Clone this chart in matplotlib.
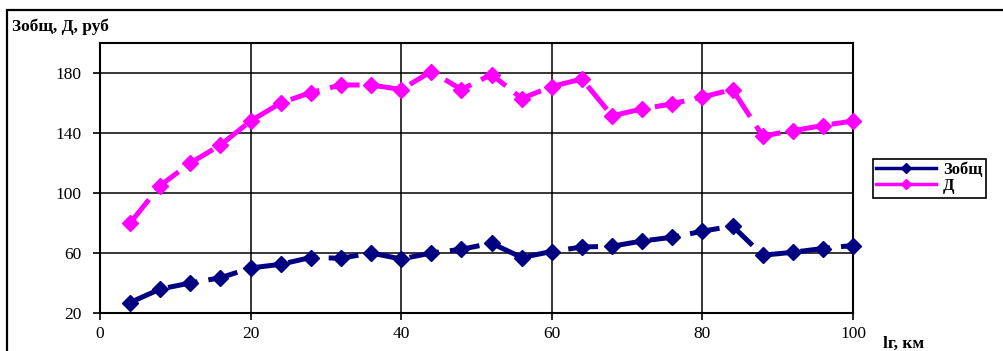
import matplotlib
matplotlib.use("Agg")
import matplotlib.pyplot as plt
from matplotlib.lines import Line2D
from matplotlib.patches import Rectangle

# Distance lг, km
distance = [4, 8, 12, 16, 20, 24, 28, 32, 36, 40, 44, 48, 52,
            56, 60, 64, 68, 72, 76, 80, 84, 88, 92, 96, 100]

# Total costs Зобщ, rub
z_total = [27, 36, 40, 43.5, 50, 52.5, 57, 56.5, 60, 56, 60, 62.5, 66.5,
           57, 61, 64, 64.5, 68, 70.5, 74.5, 78, 58.5, 60.5, 63, 65]

# Income Д, rub
income = [80, 105, 120, 132, 148, 160, 167, 172, 172, 169, 181, 169, 179,
          163, 171, 176, 151.5, 156, 159.5, 164, 169, 138, 141.5, 145, 148]

x_ticks = [0, 20, 40, 60, 80, 100]
y_ticks = [20, 60, 100, 140, 180]

W, H = 1004, 351
fig = plt.figure(figsize=(W / 100, H / 100), dpi=100)
plt.rcParams['font.family'] = ['Liberation Serif', 'DejaVu Serif']

ax = fig.add_axes([100 / W, 1 - 313 / H, (853 - 100) / W, (313 - 43) / H])

navy = '#000080'
magenta = '#FF00FF'
dash = (0, (6, 2.2))

ax.plot(distance, z_total, color=navy, lw=3.6, linestyle=dash,
        marker='D', ms=8, mec=navy, mfc=navy, zorder=3, clip_on=False)
ax.plot(distance, income, color=magenta, lw=3.6, linestyle=dash,
        marker='D', ms=8, mec=magenta, mfc=magenta, zorder=3, clip_on=False)

ax.set_xlim(0, 100)
ax.set_ylim(20, 200)
ax.set_xticks(x_ticks)
ax.set_yticks(y_ticks)
ax.tick_params(direction='out', length=5, width=1.2, labelsize=12.5,
               colors='black')
ax.tick_params(axis='y', pad=8)
ax.tick_params(axis='x', pad=4)

ax.grid(True, color='black', lw=1.1, zorder=1)
for s in ax.spines.values():
    s.set_linewidth(1.5)
    s.set_color('black')

# Outer chart frame
fig.patches.append(Rectangle((7 / W, -0.05), 1.1, 1 - 10 / H + 0.05,
                             transform=fig.transFigure, fill=False,
                             lw=1.6, edgecolor='black'))

fig.text(12 / W, 1 - 27 / H, 'Зобщ, Д, руб', fontsize=12.5, fontweight='bold',
         ha='left', va='center')
fig.text(883 / W, 1 - 344 / H, 'lг, км', fontsize=12.5, fontweight='bold',
         ha='left', va='center')

handles = [Line2D([], [], color=navy, lw=2.5, marker='D', ms=5.5),
           Line2D([], [], color=magenta, lw=2.5, marker='D', ms=5.5)]
leg = fig.legend(handles, ['Зобщ', 'Д'], loc='upper left',
                 bbox_to_anchor=(873 / W, 1 - 159 / H), frameon=True,
                 fancybox=False, edgecolor='black', framealpha=1,
                 prop={'weight': 'bold', 'size': 12}, handlelength=3.6,
                 handletextpad=0.4, borderpad=0.2, labelspacing=0.0,
                 borderaxespad=0)
leg.get_frame().set_linewidth(1.2)

fig.savefig('out.png', dpi=100)
